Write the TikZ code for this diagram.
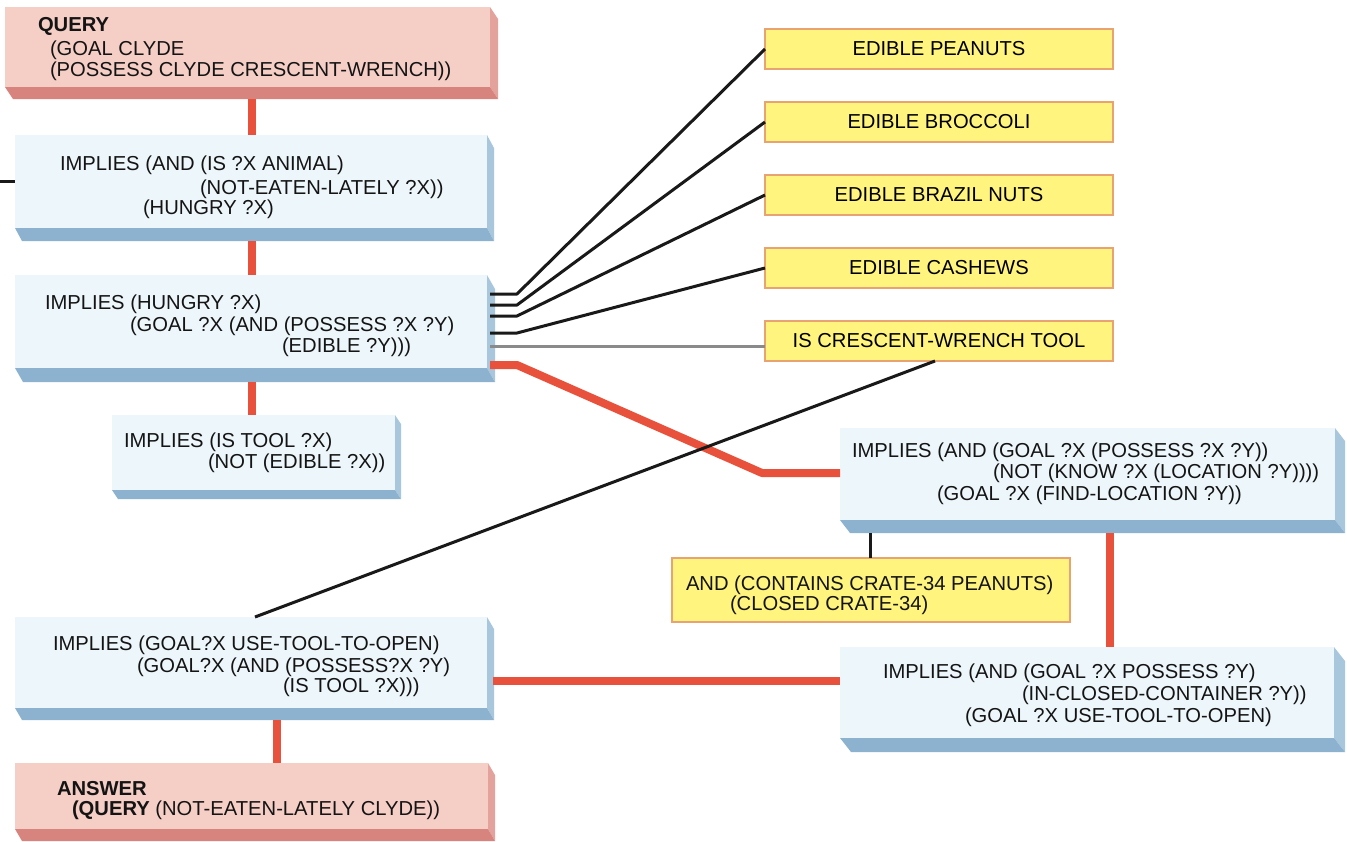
\documentclass[tikz,border=0pt]{standalone}
\usepackage{fontspec}
\setmainfont{Liberation Sans}
\definecolor{bluefront}{HTML}{EDF6FB}
\definecolor{bluebottom}{HTML}{8DB2CF}
\definecolor{blueside}{HTML}{A9C7DC}
\definecolor{pinkfront}{HTML}{F5CEC6}
\definecolor{pinkbottom}{HTML}{D8847E}
\definecolor{pinkside}{HTML}{E3A39C}
\definecolor{yellowfill}{HTML}{FFF47E}
\definecolor{yellowedge}{HTML}{E9A272}
\definecolor{redwire}{HTML}{E8523C}
\definecolor{graywire}{HTML}{8A8A8A}
\newcommand\extrudebox[5]{%
  \fill[#4] (#1.north east) -- ([shift={(#2,#3)}]#1.north east) -- ([shift={(#2,#3)}]#1.south east) -- (#1.south east) -- cycle;
  \fill[#5] (#1.south west) -- (#1.south east) -- ([shift={(#2,#3)}]#1.south east) -- ([shift={(#2,#3)}]#1.south west) -- cycle;
}
\tikzset{
  face/.style={rectangle, anchor=north west, inner sep=0pt, outer sep=0pt},
  bluebox/.style={face, fill=bluefront},
  pinkbox/.style={face, fill=pinkfront},
  yellowbox/.style={face, fill=yellowfill, draw=yellowedge, line width=1.5pt,
    minimum width=348, minimum height=40,
    font=\fontsize{20.2}{24}\selectfont},
  txt/.style={anchor=base west, inner sep=0pt, outer sep=0pt, font=\fontsize{20.2}{24}\selectfont, text=black!92},
  redline/.style={draw=redwire, line width=8pt, line join=round},
  blkline/.style={draw=black!90, line width=3pt, line join=round},
  grayline/.style={draw=graywire, line width=3pt},
}
\begin{document}
\begin{tikzpicture}[x=1pt,y=-1pt]
\useasboundingbox (0,0) rectangle (1347,841);
\fill[white] (0,0) rectangle (1347,841);

% ---- boxes ----
\node[pinkbox, minimum width=485, minimum height=80] (q) at (5,7) {};
\extrudebox{q}{8}{12}{pinkside}{pinkbottom}
\node[bluebox, minimum width=472, minimum height=93] (b1) at (15,135) {};
\extrudebox{b1}{7}{13}{blueside}{bluebottom}
\node[bluebox, minimum width=472, minimum height=93] (b2) at (15,275) {};
\extrudebox{b2}{8}{14}{blueside}{bluebottom}
\node[bluebox, minimum width=283, minimum height=75] (b3) at (112,415) {};
\extrudebox{b3}{6}{9}{blueside}{bluebottom}
\node[bluebox, minimum width=472, minimum height=91] (b4) at (15,617) {};
\extrudebox{b4}{7}{12}{blueside}{bluebottom}
\node[pinkbox, minimum width=473, minimum height=66] (ans) at (15,763) {};
\extrudebox{ans}{7}{12}{pinkside}{pinkbottom}
\node[bluebox, minimum width=495, minimum height=92] (b5) at (840,428) {};
\extrudebox{b5}{10}{13}{blueside}{bluebottom}
\node[bluebox, minimum width=494, minimum height=91] (b6) at (840,647) {};
\extrudebox{b6}{11}{14}{blueside}{bluebottom}

\node[yellowbox] (y1) at (765,29) {EDIBLE PEANUTS};
\node[yellowbox] (y2) at (765,102) {EDIBLE BROCCOLI};
\node[yellowbox] (y3) at (765,175) {EDIBLE BRAZIL NUTS};
\node[yellowbox] (y4) at (765,248) {EDIBLE CASHEWS};
\node[yellowbox] (y5) at (765,321) {IS CRESCENT-WRENCH TOOL};
\node[face, fill=yellowfill, draw=yellowedge, line width=1.5pt, minimum width=398, minimum height=64] (crate) at (672,558) {};

% ---- texts ----
\node[txt] (q1) at (38,31) {\bfseries QUERY};
\node[txt] (q2) at (50,55) {(GOAL CLYDE};
\node[txt] (q3) at (50,76) {(POSSESS CLYDE CRESCENT-WRENCH))};

\node[txt] (b1a) at (60,170) {IMPLIES (AND (IS ?X ANIMAL)};
\node[txt] (b1b) at (200,194) {(NOT-EATEN-LATELY ?X))};
\node[txt] (b1c) at (143,214) {(HUNGRY ?X)};

\node[txt] (b2a) at (45,309) {IMPLIES (HUNGRY ?X)};
\node[txt] (b2b) at (130,331) {(GOAL ?X (AND (POSSESS ?X ?Y)};
\node[txt] (b2c) at (282,352) {(EDIBLE ?Y)))};

\node[txt] (b3a) at (124,447) {IMPLIES (IS TOOL ?X)};
\node[txt] (b3b) at (208,468) {(NOT (EDIBLE ?X))};

\node[txt] (b4a) at (53,650) {IMPLIES (GOAL?X USE-TOOL-TO-OPEN)};
\node[txt] (b4b) at (137,672) {(GOAL?X (AND (POSSESS?X ?Y)};
\node[txt] (b4c) at (283,692) {(IS TOOL ?X)))};

\node[txt] (ans1) at (57,795) {\bfseries ANSWER};
\node[txt] (ans2) at (72,815) {\bfseries (QUERY\mdseries{} (NOT-EATEN-LATELY CLYDE))};

\node[txt] (b5a) at (852,457) {IMPLIES (AND (GOAL ?X (POSSESS ?X ?Y))};
\node[txt] (b5b) at (993,478) {(NOT (KNOW ?X (LOCATION ?Y))))};
\node[txt] (b5c) at (937,500) {(GOAL ?X (FIND-LOCATION ?Y))};

\node[txt] (c1) at (686,590) {AND (CONTAINS CRATE-34 PEANUTS)};
\node[txt] (c2) at (730,610) {(CLOSED CRATE-34)};

\node[txt] (b6a) at (883,678) {IMPLIES (AND (GOAL ?X POSSESS ?Y)};
\node[txt] (b6b) at (1022,700) {(IN-CLOSED-CONTAINER ?Y))};
\node[txt] (b6c) at (965,722) {(GOAL ?X USE-TOOL-TO-OPEN)};

% ---- connectors ----
\coordinate (lft) at (0,181);
\draw[blkline] (lft) -- (lft -| b1.west);

\draw[redline] ([shift={(247,12)}]q.south west) -- ([shift={(237,0)}]b1.north west);
\draw[redline] ([shift={(237,13)}]b1.south west) -- ([shift={(237,0)}]b2.north west);
\draw[redline] ([shift={(237,14)}]b2.south west) -- ([shift={(140,0)}]b3.north west);
\draw[redline] ([shift={(262,12)}]b4.south west) -- ([shift={(262,0)}]ans.north west);
\draw[redline] ([shift={(270,13)}]b5.south west) -- ([shift={(270,0)}]b6.north west);
\draw[redline] ([shift={(6,64)}]b4.north east) -- ([shift={(0,34)}]b6.north west);
\draw[redline] ([shift={(3,-3)}]b2.south east) -- ++(27,0) -- ([shift={(-78,45)}]b5.north west) -- ([shift={(0,45)}]b5.north west);

\draw[blkline] ([shift={(3,-74)}]b2.south east) -- ++(27,0) -- (y1.west);
\draw[blkline] ([shift={(3,-63)}]b2.south east) -- ++(27,0) -- (y2.west);
\draw[blkline] ([shift={(3,-52)}]b2.south east) -- ++(27,0) -- (y3.west);
\draw[blkline] ([shift={(3,-35)}]b2.south east) -- ++(27,0) -- (y4.west);
\draw[grayline] ([shift={(3,-22)}]b2.south east) -- ([shift={(0,-15)}]y5.south west);

\draw[blkline] ([shift={(30,13)}]b5.south west) -- ([shift={(198,0)}]crate.north west);
\draw[blkline] ([shift={(240,0)}]b4.north west) -- ([shift={(170,0)}]y5.south west);
\end{tikzpicture}
\end{document}
